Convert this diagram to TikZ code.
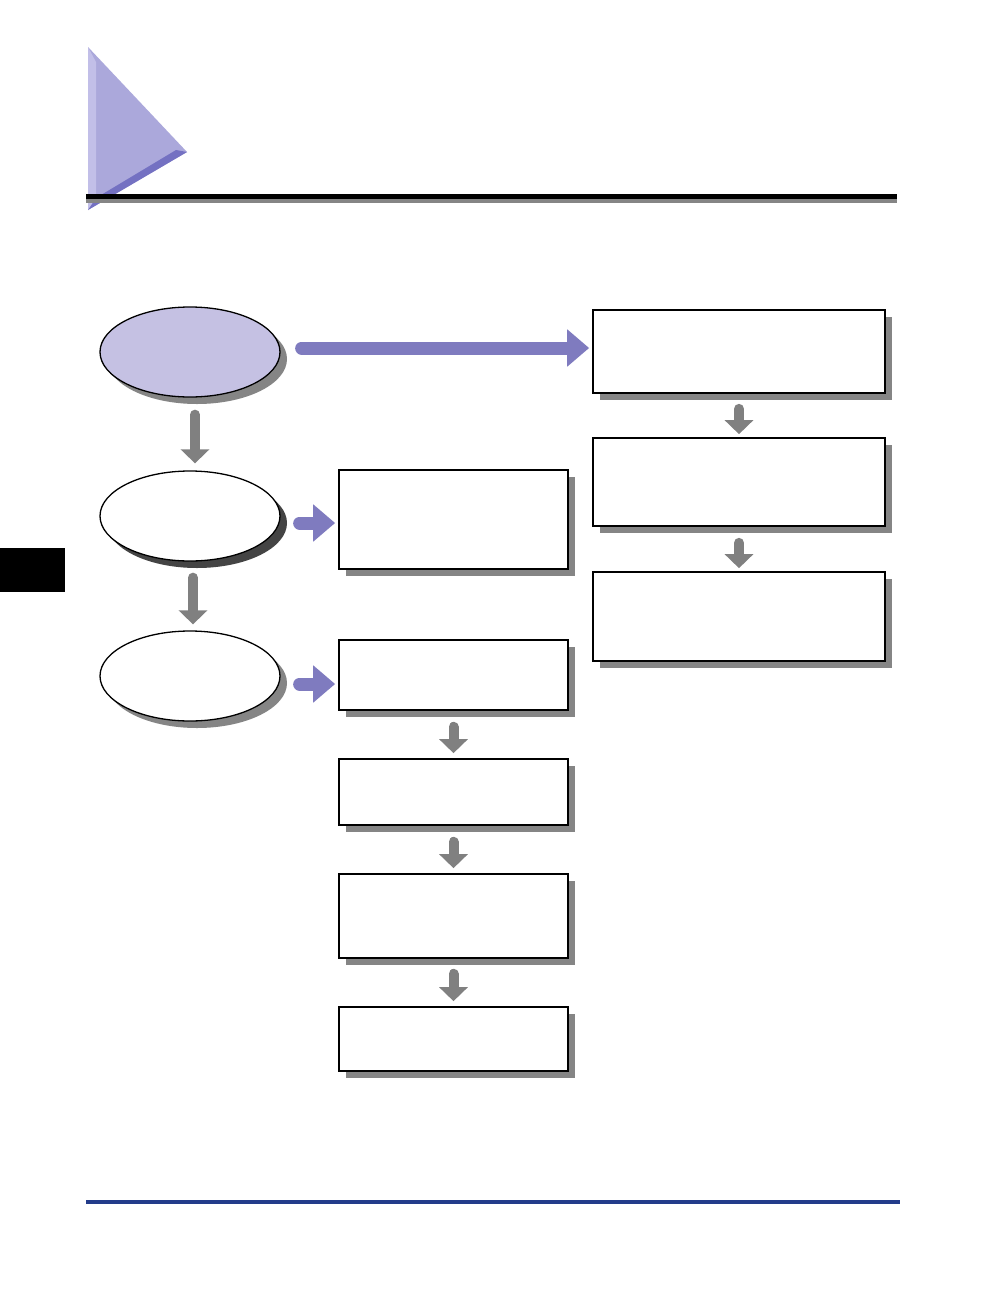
\documentclass[tikz,border=0pt]{standalone}
\usetikzlibrary{arrows.meta,shapes.geometric,shadows}
\definecolor{lav}{HTML}{C5C1E3}
\definecolor{tri}{HTML}{ABA8DB}
\definecolor{trilight}{HTML}{C2BFE8}
\definecolor{tridark}{HTML}{7471C2}
\definecolor{parrow}{HTML}{7F7BBF}
\definecolor{garrow}{HTML}{808080}
\definecolor{shad}{HTML}{858585}
\definecolor{darkshad}{HTML}{444444}
\definecolor{navy}{HTML}{233C8A}
\tikzset{
  box/.style={draw=black, line width=1.7pt, fill=white, rectangle, inner sep=0pt,
    general shadow={fill=shad, shadow xshift=7pt, shadow yshift=-7pt}},
  oval/.style={draw=black, line width=1.3pt, ellipse, inner sep=0pt,
    minimum width=180pt, minimum height=90pt},
  grayshadow/.style={general shadow={fill=shad, shadow xshift=7pt, shadow yshift=-7pt}},
  darkshadow/.style={general shadow={fill=darkshad, shadow xshift=7pt, shadow yshift=-7pt}},
  garr/.style={draw=garrow, line width=10pt, line cap=round,
    -{Triangle[width=28pt,length=14pt]}},
  parr/.style={draw=parrow, line width=13pt, line cap=round,
    -{Triangle[width=36pt,length=22pt]}},
}
\begin{document}
\begin{tikzpicture}[x=1pt,y=-1pt]
\useasboundingbox (0,0) rectangle (1008,1296);
\fill[white] (0,0) rectangle (1008,1296);
% header triangle
\fill[tri] (88,47) -- (187,152) -- (88,210) -- cycle;
\fill[trilight] (88,47) -- (96,62) -- (96,200) -- (88,210) -- cycle;
\fill[tridark] (187,152) -- (88,210) -- (96,198) -- (176,150) -- cycle;
% header rule
\fill[black] (86,194) rectangle (897,199);
\fill[shad] (86,199) rectangle (897,203);
% side tab
\fill[black] (0,548) rectangle (65,592);
% footer line
\fill[navy] (86,1200) rectangle (900,1204);
% ovals
\node[oval, fill=lav, grayshadow] (e1) at (190,352) {};
\node[oval, fill=white, darkshadow] (e2) at (190,516) {};
\node[oval, fill=white, grayshadow] (e3) at (190,676) {};
% middle column boxes
\node[box, minimum width=229pt, minimum height=99pt] (b1) at (453.5,519.5) {};
\node[box, minimum width=229pt, minimum height=70pt] (b2) at (453.5,675) {};
\node[box, minimum width=229pt, minimum height=66pt] (b3) at (453.5,792) {};
\node[box, minimum width=229pt, minimum height=84pt] (b4) at (453.5,916) {};
\node[box, minimum width=229pt, minimum height=64pt] (b5) at (453.5,1039) {};
% right column boxes
\node[box, minimum width=292pt, minimum height=83pt] (r1) at (739,351.5) {};
\node[box, minimum width=292pt, minimum height=88pt] (r2) at (739,482) {};
\node[box, minimum width=292pt, minimum height=89pt] (r3) at (739,616.5) {};
% gray arrows
\draw[garr, shorten <=17pt, shorten >=7pt] ([xshift=5pt]e1.south) -- ([xshift=5pt]e2.north);
\draw[garr, shorten <=16pt, shorten >=6pt] ([xshift=3pt]e2.south) -- ([xshift=3pt]e3.north);
\draw[garr, shorten <=16pt, shorten >=5pt] (b2.south) -- (b3.north);
\draw[garr, shorten <=16pt, shorten >=5pt] (b3.south) -- (b4.north);
\draw[garr, shorten <=15pt, shorten >=5pt] (b4.south) -- (b5.north);
\draw[garr, shorten <=15pt, shorten >=3pt] (r1.south) -- (r2.north);
\draw[garr, shorten <=16pt, shorten >=3pt] (r2.south) -- (r3.north);
% purple arrows
\draw[parr, shorten <=21pt, shorten >=3pt] ([yshift=4pt]e1.east) -- ([yshift=4pt]e1.east -| r1.west);
\draw[parr, shorten <=19pt, shorten >=3pt] ([yshift=-7pt]e2.east) -- ([yshift=-7pt]e2.east -| b1.west);
\draw[parr, shorten <=19pt, shorten >=3pt] ([yshift=-8pt]e3.east) -- ([yshift=-8pt]e3.east -| b2.west);
\end{tikzpicture}
\end{document}
